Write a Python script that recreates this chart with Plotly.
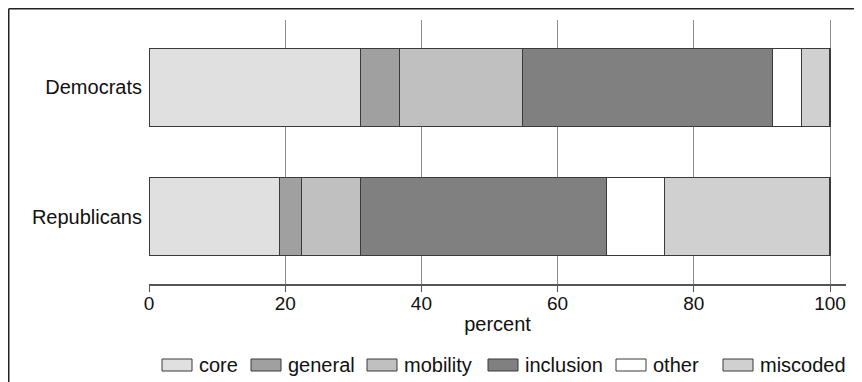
import plotly.graph_objects as go

# ---- data ----
groups = ["Republicans", "Democrats"]
categories = ["core", "general", "mobility", "inclusion", "other", "miscoded"]
democrats = [31.0, 5.8, 18.0, 36.7, 4.3, 4.2]
republicans = [19.2, 3.2, 8.6, 36.2, 8.5, 24.3]
colors = ["#e0e0e0", "#a0a0a0", "#c0c0c0", "#808080", "#ffffff", "#d0d0d0"]
x_ticks = [0, 20, 40, 60, 80, 100]

# ---- layout geometry (page pixels; page has an 8px body margin) ----
OFF = 8
W, H = 862 - OFF, 382 - OFF
L, R, T, B = 149 - OFF, 846 - OFF, 20 - OFF, 284 - OFF

def px(x):
    return (x - OFF - L) / (R - L)

def py(y):
    return (B - (y - OFF)) / (B - T)

FONT = "Liberation Sans, Arial, sans-serif"
FS = 20

fig = go.Figure()
for i, cat in enumerate(categories):
    fig.add_trace(go.Bar(
        y=groups,
        x=[republicans[i], democrats[i]],
        name=cat,
        orientation="h",
        width=0.6,
        marker=dict(color=colors[i], line=dict(color="#3a3a3a", width=1.2)),
        showlegend=False,
    ))

x_max = 100 * (846 - 149) / (830 - 149)

fig.update_layout(
    width=W, height=H,
    margin=dict(l=L, r=W - R, t=T, b=H - B),
    barmode="stack",
    paper_bgcolor="white",
    plot_bgcolor="white",
    font=dict(family=FONT, size=FS, color="#111111"),
    xaxis=dict(
        range=[0, x_max],
        tickvals=x_ticks,
        ticktext=[str(v) for v in x_ticks],
        tickfont=dict(size=19),
        showgrid=True, gridcolor="#8c8c8c", gridwidth=1,
        zeroline=False,
        showline=True, linecolor="#555555", linewidth=1.5,
        ticks="outside", ticklen=6, tickcolor="#555555", tickwidth=1,
        ticklabelstandoff=-5,
        title=dict(text="percent", standoff=4, font=dict(size=FS)),
    ),
    yaxis=dict(
        categoryorder="array", categoryarray=groups,
        range=[-0.523, 1.523],
        showgrid=False, zeroline=False, showline=False,
        ticks="", ticklabelstandoff=6,
    ),
)

# outer frame (top and left edges visible)
fig.add_shape(type="line", xref="paper", yref="paper",
              x0=px(8.75), x1=px(862), y0=py(8.75), y1=py(8.75),
              line=dict(color="#222222", width=1.5))
fig.add_shape(type="line", xref="paper", yref="paper",
              x0=px(8.75), x1=px(8.75), y0=py(8.75), y1=py(382),
              line=dict(color="#222222", width=1.5))

# manual legend
box_x = [162, 251, 367, 488, 616, 723]
for i, cat in enumerate(categories):
    bx = box_x[i]
    fig.add_shape(type="rect", xref="paper", yref="paper",
                  x0=px(bx), x1=px(bx + 30), y0=py(359), y1=py(371),
                  fillcolor=colors[i], line=dict(color="#3a3a3a", width=1))
    fig.add_annotation(xref="paper", yref="paper", x=px(bx + 35), y=py(365),
                       text=cat, showarrow=False, xanchor="left", yanchor="middle",
                       font=dict(family=FONT, size=FS, color="#111111"))

fig.write_html("out.html")
